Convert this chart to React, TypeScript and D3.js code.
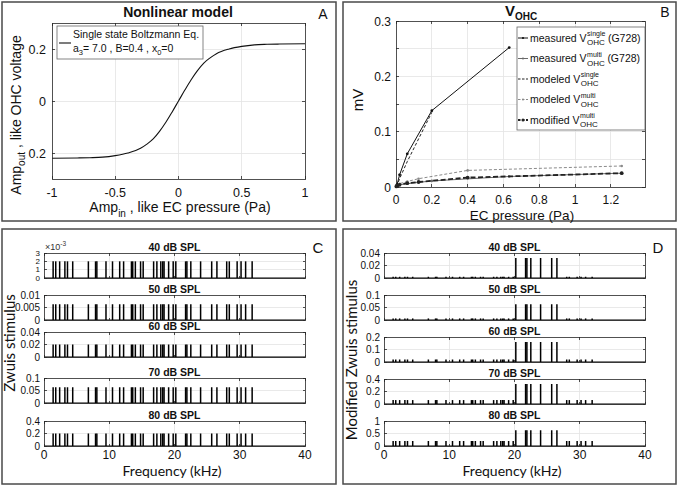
import React from "react";
import * as d3 from "d3";

// panel A: single state Boltzmann curve
const boltzIn = [-1, -0.8, -0.7, -0.6, -0.5, -0.4, -0.3, -0.25, -0.2, -0.15, -0.1, -0.05, 0, 0.05, 0.1, 0.15, 0.2, 0.25, 0.3, 0.4, 0.5, 0.6, 0.7, 0.8, 1];
const boltzOut = [-0.22, -0.219, -0.218, -0.216, -0.21, -0.2, -0.182, -0.166, -0.146, -0.117, -0.082, -0.042, 0, 0.042, 0.082, 0.117, 0.146, 0.166, 0.182, 0.2, 0.21, 0.216, 0.218, 0.219, 0.22];
const aXTicks = [-1, -0.5, 0, 0.5, 1];
const aXTickLabels = ["-1", "-0.5", "0", "0.5", "1"];
const aYTicks = [-0.2, 0, 0.2];
const aYTickLabels = ["0.2", "0", "0.2"];

// panel B: V_OHC vs EC pressure
const measSingleX = [0.002, 0.0063, 0.02, 0.063, 0.2, 0.632];
const measSingleY = [0.002, 0.005, 0.022, 0.06, 0.138, 0.252];
const measMultiX = [0.002, 0.0063, 0.02, 0.063, 0.2, 0.632, 1.26];
const measMultiY = [0.001, 0.002, 0.004, 0.006, 0.011, 0.019, 0.025];
const modSingleX = [0.002, 0.0063, 0.02, 0.063, 0.2];
const modSingleY = [0.001, 0.003, 0.015, 0.046, 0.135];
const modMultiX = [0.002, 0.0063, 0.02, 0.063, 0.126, 0.4, 1.26];
const modMultiY = [0.001, 0.003, 0.006, 0.01, 0.015, 0.03, 0.038];
const modifMultiX = [0.002, 0.0063, 0.02, 0.063, 0.126, 0.4, 1.26];
const modifMultiY = [0.001, 0.002, 0.004, 0.007, 0.009, 0.017, 0.025];
const bXTicks = [0, 0.2, 0.4, 0.6, 0.8, 1, 1.2];
const bYTicks = [0, 0.1, 0.2, 0.3];
const bYGrid = [0.05, 0.1, 0.15, 0.2, 0.25];
const bLegend = [
  { pre: "measured V", sup: "single", post: "(G728)" },
  { pre: "measured V", sup: "multi", post: "(G728)" },
  { pre: "modeled V", sup: "single", post: "" },
  { pre: "modeled V", sup: "multi", post: "" },
  { pre: "modified V", sup: "multi", post: "" },
];

// panels C / D: Zwuis stimulus components (kHz)
const zwuisFreqs = [1.4, 1.8, 2.4, 3.2, 3.6, 4.4, 6.8, 7.9, 8.1, 9.5, 10.5, 11.6, 12.2, 13.4, 13.6, 14.0, 14.8, 15.2, 16.8, 17.3, 17.9, 18.2, 18.4, 19.1, 19.8, 20.2, 21.7, 21.9, 22.5, 24.0, 25.7, 26.5, 28.0, 28.4, 29.6, 30.2, 30.9, 31.9];
const boostedFreqs = [20.2, 21.7, 21.9, 22.5, 24.0, 25.7, 26.5];
const splLevels = ["40 dB SPL", "50 dB SPL", "60 dB SPL", "70 dB SPL", "80 dB SPL"];
const zwuisAmp = [0.002, 0.0063, 0.02, 0.063, 0.2];
const boostAmp = [0.032, 0.063, 0.16, 0.32, 0.63];
const cYMax = [0.003, 0.01, 0.04, 0.1, 0.4];
const cYTicks = [[0, 0.001, 0.002, 0.003], [0, 0.005, 0.01], [0, 0.02, 0.04], [0, 0.05, 0.1], [0, 0.2, 0.4]];
const cYTickLabels = [["0", "1", "2", "3"], ["0", "0.005", "0.01"], ["0", "0.02", "0.04"], ["0", "0.05", "0.1"], ["0", "0.2", "0.4"]];
const dYMax = [0.04, 0.1, 0.2, 0.4, 1];
const dYTicks = [[0, 0.02, 0.04], [0, 0.05, 0.1], [0, 0.1, 0.2], [0, 0.2, 0.4], [0, 0.5, 1]];
const dYTickLabels = [["0", "0.02", "0.04"], ["0", "0.05", "0.1"], ["0", "0.1", "0.2"], ["0", "0.2", "0.4"], ["0", "0.5", "1"]];
const freqTicks = [0, 10, 20, 30, 40];

const sans = "'Liberation Sans', Arial, Helvetica, sans-serif";
const soft = "Lato, 'Open Sans', sans-serif";
const ink = "#262626";
const grid = "#e4e4e4";
const frameCol = "#4a4a4a";

let ctx: CanvasRenderingContext2D | null = null;
function textW(s: string, font: string) {
  if (!ctx) ctx = document.createElement("canvas").getContext("2d");
  ctx!.font = font;
  return ctx!.measureText(s).width;
}

function Grid({ x, y, xs, ys }: any) {
  const [x0, x1] = x.range();
  const [y0, y1] = y.range();
  return (
    <g stroke={grid} strokeWidth={0.8} shapeRendering="crispEdges">
      {xs.map((v: number) => <line key={"x" + v} x1={x(v)} x2={x(v)} y1={y0} y2={y1} />)}
      {ys.map((v: number) => <line key={"y" + v} x1={x0} x2={x1} y1={y(v)} y2={y(v)} />)}
    </g>
  );
}

function Frame({ x, y, xs, ys, len = 3 }: any) {
  const [x0, x1] = x.range();
  const [y0, y1] = y.range();
  return (
    <g stroke={ink} strokeWidth={0.8} fill="none" shapeRendering="crispEdges">
      <rect x={x0} y={y1} width={x1 - x0} height={y0 - y1} />
      {xs.map((v: number) => (
        <g key={"tx" + v}>
          <line x1={x(v)} x2={x(v)} y1={y0} y2={y0 - len} />
          <line x1={x(v)} x2={x(v)} y1={y1} y2={y1 + len} />
        </g>
      ))}
      {ys.map((v: number) => (
        <g key={"ty" + v}>
          <line x1={x0} x2={x0 + len} y1={y(v)} y2={y(v)} />
          <line x1={x1} x2={x1 - len} y1={y(v)} y2={y(v)} />
        </g>
      ))}
    </g>
  );
}

function PanelA() {
  const x = d3.scaleLinear().domain([-1, 1]).range([52, 305]);
  const y = d3.scaleLinear().domain([-0.3, 0.3]).range([179, 23]);
  const line = d3.line<number>().x((i) => x(boltzIn[i])).y((i) => y(boltzOut[i])).curve(d3.curveMonotoneX);
  return (
    <g>
      <Grid x={x} y={y} xs={aXTicks.slice(1, -1)} ys={aYTicks} />
      <path d={line(d3.range(boltzIn.length))!} fill="none" stroke="#111" strokeWidth={1.1} />
      <Frame x={x} y={y} xs={aXTicks} ys={aYTicks} />
      <g fontFamily={sans} fontSize={12.5} fill="#111">
        {aXTicks.map((v, i) => (
          <text key={v} x={x(v)} y={197} textAnchor="middle">{aXTickLabels[i]}</text>
        ))}
        {aYTicks.map((v, i) => (
          <text key={v} x={46} y={y(v) + 4.5} textAnchor="end">{aYTickLabels[i]}</text>
        ))}
      </g>
      <rect x={57} y={26} width={146} height={33} fill="#fff" stroke="#666" strokeWidth={0.8} />
      <line x1={59} x2={71} y1={43} y2={43} stroke="#111" strokeWidth={1.1} />
      <g fontFamily={sans} fontSize={10.5} fill="#111">
        <text x={73} y={38}>Single state Boltzmann Eq.</text>
        <text x={73} y={52}>
          a<tspan fontSize={7.5} dy={3}>3</tspan><tspan dy={-3}>= 7.0 , B=0.4 , x</tspan>
          <tspan fontSize={7.5} dy={3}>0</tspan><tspan dy={-3}>=0</tspan>
        </text>
      </g>
      <text x={178} y={17} textAnchor="middle" fontFamily={sans} fontWeight="bold" fontSize={14} fill="#111">Nonlinear model</text>
      <text x={323} y={19} textAnchor="middle" fontFamily={sans} fontSize={14} fill="#111">A</text>
      <text x={180} y={212} textAnchor="middle" fontFamily={sans} fontSize={14} fill="#111">
        Amp<tspan fontSize={10} dy={5}>in</tspan><tspan dy={-5}> , like EC pressure (Pa)</tspan>
      </text>
      <text transform="translate(21,115) rotate(-90)" textAnchor="middle" fontFamily={sans} fontSize={14} fill="#111">
        Amp<tspan fontSize={10} dy={4}>out</tspan><tspan dy={-4}> , like OHC voltage</tspan>
      </text>
    </g>
  );
}

function PanelB() {
  const x = d3.scaleLinear().domain([0, 1.39]).range([396, 645]);
  const y = d3.scaleLinear().domain([0, 0.3]).range([187, 21]);
  const mk = (xs: number[], ys: number[]) =>
    d3.line<number>().x((i) => x(xs[i])).y((i) => y(ys[i]))(d3.range(xs.length))!;
  const series = [
    { xs: measSingleX, ys: measSingleY, color: "#111", w: 1, dash: "", r: 1.4 },
    { xs: measMultiX, ys: measMultiY, color: "#6a6a6a", w: 1, dash: "", r: 1.3 },
    { xs: modSingleX, ys: modSingleY, color: "#222", w: 1, dash: "3,2", r: 0 },
    { xs: modMultiX, ys: modMultiY, color: "#8a8a8a", w: 1, dash: "3,2", r: 1.3 },
    { xs: modifMultiX, ys: modifMultiY, color: "#222", w: 1.8, dash: "5,2.5", r: 1.9 },
  ];
  const lf = 10.5;
  const lfont = `${lf}px 'Liberation Sans'`;
  const lx = 517, ly = 27;
  return (
    <g>
      <Grid x={x} y={y} xs={bXTicks.slice(1)} ys={bYGrid} />
      {series.map((s, k) => (
        <g key={k}>
          <path d={mk(s.xs, s.ys)} fill="none" stroke={s.color} strokeWidth={s.w} strokeDasharray={s.dash || undefined} />
          {s.r > 0 && s.xs.map((v, i) => <circle key={i} cx={x(v)} cy={y(s.ys[i])} r={s.r} fill={s.color} />)}
        </g>
      ))}
      <Frame x={x} y={y} xs={bXTicks} ys={[0, 0.05, 0.1, 0.15, 0.2, 0.25, 0.3]} />
      <g fontFamily={sans} fontSize={12} fill="#111">
        {bXTicks.map((v) => (
          <text key={v} x={x(v)} y={204} textAnchor="middle">{String(v)}</text>
        ))}
        {bYTicks.map((v) => (
          <text key={v} x={391} y={y(v) + 4.5} textAnchor="end">{String(v)}</text>
        ))}
      </g>
      <rect x={lx} y={ly} width={128} height={103} fill="#fff" stroke="#666" strokeWidth={0.8} />
      {bLegend.map((e, i) => {
        const cy = ly + 11 + i * 20.5;
        const s = series[i];
        const preW = textW(e.pre, lfont);
        const sx = lx + 13 + preW + 0.5;
        const scriptW = Math.max(textW(e.sup, `7px 'Liberation Sans'`), textW("OHC", `8px 'Liberation Sans'`));
        return (
          <g key={i} fontFamily={sans} fill="#111">
            <line x1={lx + 1} x2={lx + 11} y1={cy} y2={cy} stroke={s.color} strokeWidth={s.w} strokeDasharray={s.dash ? "2.5,1.5" : undefined} />
            {s.r > 0 && <circle cx={lx + 6} cy={cy} r={s.r * 0.8} fill={s.color} />}
            <text x={lx + 13} y={cy + 3.5} fontSize={lf}>{e.pre}</text>
            <text x={sx} y={cy - 2} fontSize={7}>{e.sup}</text>
            <text x={sx} y={cy + 7} fontSize={8}>OHC</text>
            {e.post && <text x={sx + scriptW + 2.5} y={cy + 3.5} fontSize={lf}>{e.post}</text>}
          </g>
        );
      })}
      <text x={505} y={16} fontFamily={sans} fontWeight="bold" fontSize={15} fill="#111">
        V<tspan fontSize={10} dy={4}>OHC</tspan>
      </text>
      <text x={665} y={17} textAnchor="middle" fontFamily={sans} fontSize={14} fill="#111">B</text>
      <text x={522} y={220} textAnchor="middle" fontFamily={sans} fontSize={13.5} fill="#111">EC pressure (Pa)</text>
      <text transform="translate(363,100) rotate(-90)" textAnchor="middle" fontFamily={sans} fontSize={15} fill="#111">mV</text>
    </g>
  );
}

function Strips({ left, tops, yMax, yTicks, yTickLabels, amps, letter, yLabel, yLabelX, yLabelY, exponent }: any) {
  const x = d3.scaleLinear().domain([0, 40]).range([left, left + 261]);
  const h = 25;
  return (
    <g>
      {splLevels.map((lvl, k) => {
        const top = tops[k];
        const y = d3.scaleLinear().domain([0, yMax[k]]).range([top + h, top]);
        const fs = yTicks[k].length > 3 ? 8 : 10;
        return (
          <g key={lvl}>
            <Grid x={x} y={y} xs={[10, 20, 30]} ys={yTicks[k].slice(1, -1)} />
            <g stroke="#000" strokeWidth={1.5}>
              {zwuisFreqs.map((f) => (
                <line key={f} x1={x(f)} x2={x(f)} y1={y(0)} y2={y(amps(f, k))} />
              ))}
            </g>
            <line x1={x(0)} x2={x(40)} y1={y(0)} y2={y(0)} stroke="#000" strokeWidth={1.2} />
            <Frame x={x} y={y} xs={freqTicks} ys={yTicks[k]} len={2.5} />
            <g fontFamily={sans} fontSize={fs} fill="#111">
              {yTicks[k].map((v: number, i: number) => (
                <text key={v} x={left - 4} y={y(v) + fs * 0.35} textAnchor="end">{yTickLabels[k][i]}</text>
              ))}
            </g>
            <text x={x(20)} y={top - 2} textAnchor="middle" fontFamily={sans} fontWeight="bold" fontSize={10.5} fill="#111">{lvl}</text>
          </g>
        );
      })}
      {exponent && (
        <text x={left + 1} y={250} fontFamily={sans} fontSize={9} fill="#333">
          ×10<tspan fontSize={6.5} dy={-4}>-3</tspan>
        </text>
      )}
      <g fontFamily={sans} fontSize={12} fill="#111">
        {freqTicks.map((v) => (
          <text key={v} x={x(v)} y={459} textAnchor="middle">{String(v)}</text>
        ))}
      </g>
      <text x={left + 128} y={476} textAnchor="middle" fontFamily={soft} fontSize={14} fill="#111">Frequency (kHz)</text>
      <text transform={`translate(${yLabelX},${yLabelY}) rotate(-90)`} textAnchor="middle" fontFamily={soft} fontSize={15} fill="#111">{yLabel}</text>
      <text x={left + 274} y={253} textAnchor="middle" fontFamily={sans} fontSize={15} fill="#111">{letter}</text>
    </g>
  );
}

export default function App() {
  const cAmp = (_f: number, k: number) => zwuisAmp[k];
  const dAmp = (f: number, k: number) => (boostedFreqs.includes(f) ? boostAmp[k] : zwuisAmp[k]);
  return (
    <svg width={679} height={486} style={{ position: "absolute", left: 0, top: 0, background: "#fff" }}>
      <rect x={0} y={0} width={679} height={486} fill="#fff" />
      <g fill="none" stroke={frameCol} strokeWidth={1.5}>
        <rect x={2} y={2} width={334} height={219} />
        <rect x={343} y={2} width={333} height={219} />
        <rect x={2} y={229} width={334} height={255} />
        <rect x={343} y={229} width={333} height={255} />
      </g>
      <PanelA />
      <PanelB />
      <Strips left={44} tops={[253, 295, 332, 378, 421]} yMax={cYMax} yTicks={cYTicks} yTickLabels={cYTickLabels}
        amps={cAmp} letter="C" yLabel="Zwuis stimulus" yLabelX={15} yLabelY={343} exponent />
      <Strips left={384} tops={[253, 295, 337, 379, 421]} yMax={dYMax} yTicks={dYTicks} yTickLabels={dYTickLabels}
        amps={dAmp} letter="D" yLabel="Modified Zwuis stimulus" yLabelX={357} yLabelY={360} exponent={false} />
    </svg>
  );
}
